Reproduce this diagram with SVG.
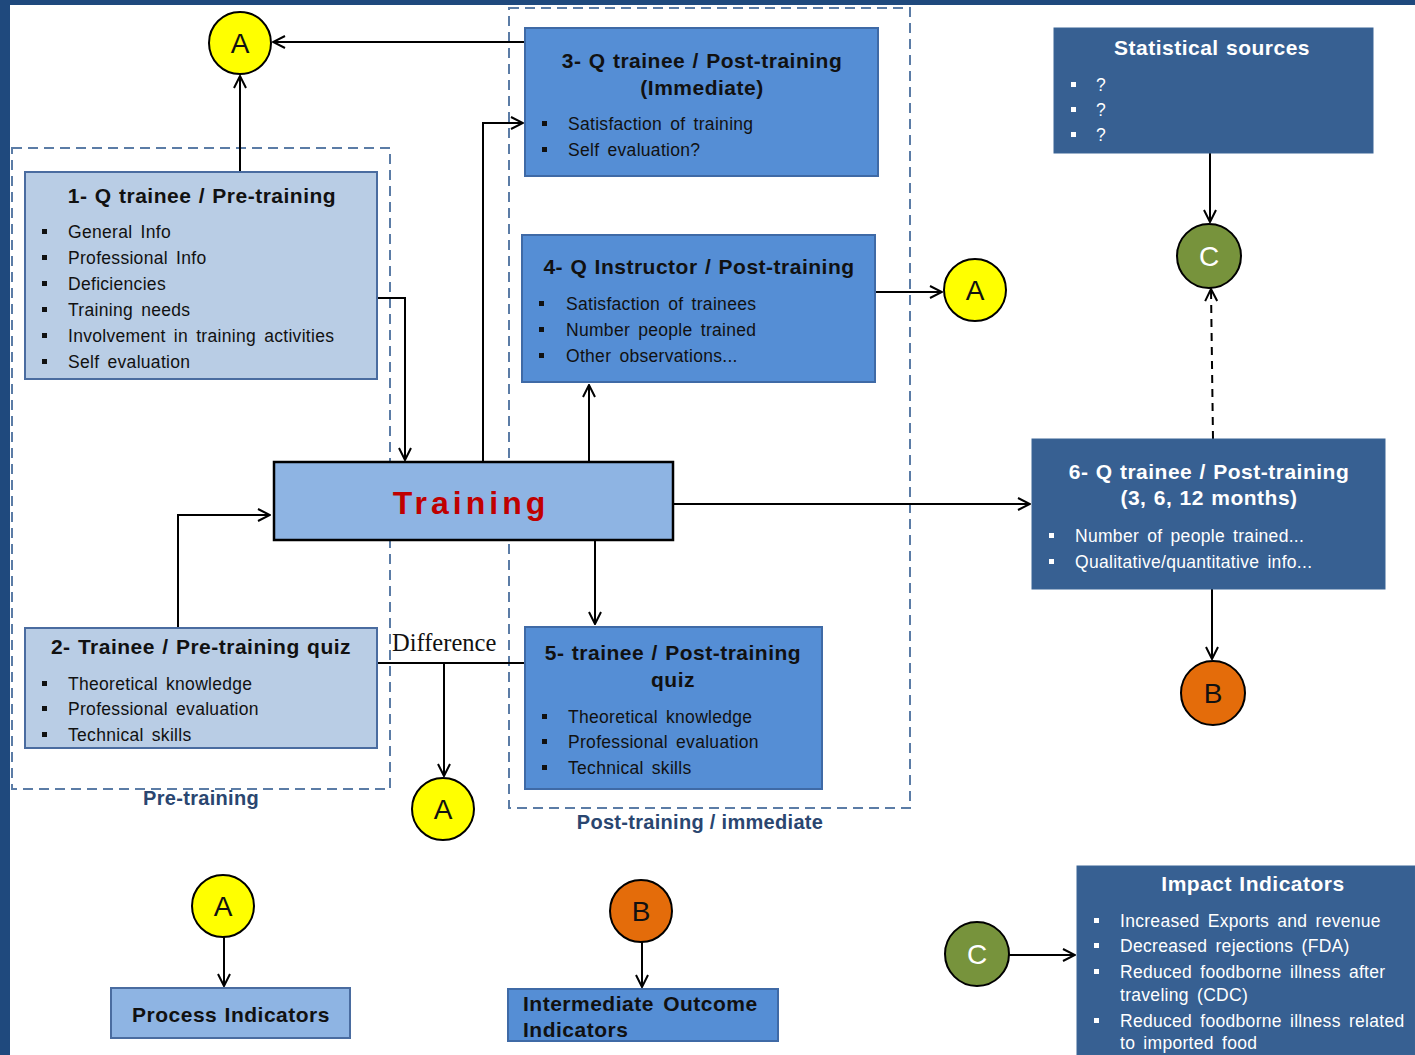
<svg xmlns="http://www.w3.org/2000/svg" width="1415" height="1055" viewBox="0 0 1415 1055">
<style>
  text { font-family: "Liberation Sans", Arial, sans-serif; }
  .title { font-weight: bold; font-size: 21px; letter-spacing: 0.5px; word-spacing: 1px; fill: #111; text-anchor: middle; }
  .titlew { font-weight: bold; font-size: 21px; letter-spacing: 0.5px; word-spacing: 1px; fill: #fff; text-anchor: middle; }
  .item { font-size: 17.5px; letter-spacing: 0.3px; word-spacing: 3px; fill: #111; }
  .itemw { font-size: 17.5px; letter-spacing: 0.3px; word-spacing: 3px; fill: #fff; }
  .light { fill: #b9cde5; stroke: #4a6ca0; stroke-width: 2; }
  .mid { fill: #558ed5; stroke: #3f6aa6; stroke-width: 2; }
  .dark { fill: #376092; stroke: #3a6496; stroke-width: 1; }
  .bul { fill: #111; }
  .bulw { fill: #fff; }
  .zone { fill: none; stroke: #5b7ca6; stroke-width: 2; stroke-dasharray: 10 6; }
  .zlabel { font-weight: bold; font-size: 20px; letter-spacing: 0.3px; fill: #2a4670; text-anchor: middle; }
  .conn { fill: none; stroke: #000; stroke-width: 2; }
  .circ { stroke: #000; stroke-width: 2; }
  .ctext { font-size: 28px; text-anchor: middle; }
</style>
<defs>
  <marker id="arr" viewBox="0 0 14 14" refX="13" refY="7" markerWidth="14" markerHeight="14" markerUnits="userSpaceOnUse" orient="auto">
    <path d="M1,1 L13,7 L1,13" fill="none" stroke="#000" stroke-width="2"/>
  </marker>
</defs>
<rect x="0" y="0" width="1415" height="1055" fill="#fff"/>
<rect x="0" y="0" width="1415" height="5" fill="#1f497d"/>
<rect x="0" y="0" width="10" height="1055" fill="#1f497d"/>

<g id="zones">
  <rect class="zone" x="12" y="148" width="378" height="641"/>
  <text class="zlabel" x="201" y="805">Pre-training</text>
  <rect class="zone" x="509" y="8" width="401" height="800"/>
  <text class="zlabel" x="700" y="829">Post-training / immediate</text>
</g>

<g id="connectors">
  <line class="conn" x1="525" y1="42" x2="273" y2="42" marker-end="url(#arr)"/>
  <line class="conn" x1="240" y1="172" x2="240" y2="76" marker-end="url(#arr)"/>
  <polyline class="conn" points="377,298 405,298 405,460" marker-end="url(#arr)"/>
  <polyline class="conn" points="483,462 483,123 523,123" marker-end="url(#arr)"/>
  <line class="conn" x1="589" y1="462" x2="589" y2="385" marker-end="url(#arr)"/>
  <line class="conn" x1="875" y1="292" x2="942" y2="292" marker-end="url(#arr)"/>
  <polyline class="conn" points="178,628 178,515 270,515" marker-end="url(#arr)"/>
  <line class="conn" x1="673" y1="504" x2="1030" y2="504" marker-end="url(#arr)"/>
  <line class="conn" x1="595" y1="540" x2="595" y2="624" marker-end="url(#arr)"/>
  <line class="conn" x1="377" y1="663" x2="525" y2="663"/>
  <line class="conn" x1="444" y1="663" x2="444" y2="776" marker-end="url(#arr)"/>
  <text x="392" y="651" font-size="24.5" fill="#111" style="font-family:'Liberation Serif',serif">Difference</text>
  <line class="conn" x1="1210" y1="153" x2="1210" y2="222" marker-end="url(#arr)"/>
  <line class="conn" x1="1213" y1="439" x2="1211" y2="289" stroke-dasharray="8 6" marker-end="url(#arr)"/>
  <line class="conn" x1="1212" y1="589" x2="1212" y2="659" marker-end="url(#arr)"/>
  <line class="conn" x1="224" y1="937" x2="224" y2="986" marker-end="url(#arr)"/>
  <line class="conn" x1="642" y1="942" x2="642" y2="987" marker-end="url(#arr)"/>
  <line class="conn" x1="1009" y1="955" x2="1075" y2="955" marker-end="url(#arr)"/>
</g>

<g id="box1">
  <rect class="light" x="25" y="172" width="352" height="207"/>
  <text class="title" x="202" y="203">1- Q trainee / Pre-training</text>
  <g class="bul"><rect x="42" y="229" width="5" height="5"/><rect x="42" y="255" width="5" height="5"/><rect x="42" y="281" width="5" height="5"/><rect x="42" y="307" width="5" height="5"/><rect x="42" y="333" width="5" height="5"/><rect x="42" y="359" width="5" height="5"/></g>
  <text class="item" x="68" y="238">General Info</text>
  <text class="item" x="68" y="264">Professional Info</text>
  <text class="item" x="68" y="290">Deficiencies</text>
  <text class="item" x="68" y="316">Training needs</text>
  <text class="item" x="68" y="342">Involvement in training activities</text>
  <text class="item" x="68" y="368">Self evaluation</text>
</g>

<g id="box2">
  <rect class="light" x="25" y="628" width="352" height="120"/>
  <text class="title" x="201" y="654">2- Trainee / Pre-training quiz</text>
  <g class="bul"><rect x="42" y="681" width="5" height="5"/><rect x="42" y="706" width="5" height="5"/><rect x="42" y="732" width="5" height="5"/></g>
  <text class="item" x="68" y="690">Theoretical knowledge</text>
  <text class="item" x="68" y="715">Professional evaluation</text>
  <text class="item" x="68" y="741">Technical skills</text>
</g>

<g id="box3">
  <rect class="mid" x="525" y="28" width="353" height="148"/>
  <text class="title" x="702" y="68">3- Q trainee / Post-training</text>
  <text class="title" x="702" y="95">(Immediate)</text>
  <g class="bul"><rect x="542" y="121" width="5" height="5"/><rect x="542" y="147" width="5" height="5"/></g>
  <text class="item" x="568" y="130">Satisfaction of training</text>
  <text class="item" x="568" y="156">Self evaluation?</text>
</g>

<g id="box4">
  <rect class="mid" x="522" y="235" width="353" height="147"/>
  <text class="title" x="699" y="274">4- Q Instructor / Post-training</text>
  <g class="bul"><rect x="539" y="301" width="5" height="5"/><rect x="539" y="327" width="5" height="5"/><rect x="539" y="353" width="5" height="5"/></g>
  <text class="item" x="566" y="310">Satisfaction of trainees</text>
  <text class="item" x="566" y="336">Number people trained</text>
  <text class="item" x="566" y="362">Other observations...</text>
</g>

<g id="training">
  <rect x="274" y="462" width="399" height="78" fill="#8eb4e3" stroke="#000" stroke-width="2.5"/>
  <text x="471" y="514" font-size="32" font-weight="bold" fill="#c00000" text-anchor="middle" letter-spacing="4">Training</text>
</g>

<g id="box5">
  <rect class="mid" x="525" y="627" width="297" height="162"/>
  <text class="title" x="673" y="660">5- trainee / Post-training</text>
  <text class="title" x="673" y="687">quiz</text>
  <g class="bul"><rect x="542" y="714" width="5" height="5"/><rect x="542" y="739" width="5" height="5"/><rect x="542" y="765" width="5" height="5"/></g>
  <text class="item" x="568" y="723">Theoretical knowledge</text>
  <text class="item" x="568" y="748">Professional evaluation</text>
  <text class="item" x="568" y="774">Technical skills</text>
</g>

<g id="box6">
  <rect class="dark" x="1032" y="439" width="353" height="150"/>
  <text class="titlew" x="1209" y="479">6-  Q trainee / Post-training</text>
  <text class="titlew" x="1209" y="505">(3, 6, 12 months)</text>
  <g class="bulw"><rect x="1049" y="533" width="5" height="5"/><rect x="1049" y="559" width="5" height="5"/></g>
  <text class="itemw" x="1075" y="542">Number of people trained...</text>
  <text class="itemw" x="1075" y="568">Qualitative/quantitative info...</text>
</g>

<g id="stats">
  <rect class="dark" x="1054" y="28" width="319" height="125"/>
  <text class="titlew" x="1212" y="55">Statistical sources</text>
  <g class="bulw"><rect x="1071" y="82" width="5" height="5"/><rect x="1071" y="107" width="5" height="5"/><rect x="1071" y="132" width="5" height="5"/></g>
  <text class="itemw" x="1096" y="91">?</text>
  <text class="itemw" x="1096" y="116">?</text>
  <text class="itemw" x="1096" y="141">?</text>
</g>

<g id="impact">
  <rect class="dark" x="1077" y="866" width="338" height="189"/>
  <text class="titlew" x="1253" y="891">Impact Indicators</text>
  <g class="bulw"><rect x="1094" y="918" width="5" height="5"/><rect x="1094" y="943" width="5" height="5"/><rect x="1094" y="969" width="5" height="5"/><rect x="1094" y="1018" width="5" height="5"/></g>
  <text class="itemw" x="1120" y="927">Increased Exports and revenue</text>
  <text class="itemw" x="1120" y="952">Decreased rejections (FDA)</text>
  <text class="itemw" x="1120" y="978">Reduced foodborne illness after</text>
  <text class="itemw" x="1120" y="1001">traveling (CDC)</text>
  <text class="itemw" x="1120" y="1027">Reduced foodborne illness related</text>
  <text class="itemw" x="1120" y="1049">to imported food</text>
</g>

<g id="process">
  <rect x="111" y="988" width="239" height="50" fill="#8eb4e3" stroke="#4a6ca0" stroke-width="2"/>
  <text class="title" x="231" y="1022">Process Indicators</text>
</g>

<g id="intermediate">
  <rect class="mid" x="508" y="989" width="270" height="52"/>
  <text x="523" y="1011" font-size="21" font-weight="bold" letter-spacing="0.5" word-spacing="3" fill="#111">Intermediate Outcome</text>
  <text x="523" y="1037" font-size="21" font-weight="bold" letter-spacing="0.5" fill="#111">Indicators</text>
</g>

<g id="circleA1"><circle class="circ" cx="240" cy="43" r="31" fill="#ffff00"/><text class="ctext" x="240" y="53" fill="#111">A</text></g>
<g id="circleA2"><circle class="circ" cx="975" cy="290" r="31" fill="#ffff00"/><text class="ctext" x="975" y="300" fill="#111">A</text></g>
<g id="circleA3"><circle class="circ" cx="443" cy="809" r="31" fill="#ffff00"/><text class="ctext" x="443" y="819" fill="#111">A</text></g>
<g id="circleA4"><circle class="circ" cx="223" cy="906" r="31" fill="#ffff00"/><text class="ctext" x="223" y="916" fill="#111">A</text></g>
<g id="circleB1"><circle class="circ" cx="1213" cy="693" r="32" fill="#e46c0a"/><text class="ctext" x="1213" y="703" fill="#111">B</text></g>
<g id="circleB2"><circle class="circ" cx="641" cy="911" r="31" fill="#e46c0a"/><text class="ctext" x="641" y="921" fill="#111">B</text></g>
<g id="circleC1"><circle class="circ" cx="1209" cy="256" r="32" fill="#77933c"/><text class="ctext" x="1209" y="266" fill="#fff">C</text></g>
<g id="circleC2"><circle class="circ" cx="977" cy="954" r="32" fill="#77933c"/><text class="ctext" x="977" y="964" fill="#fff">C</text></g>
</svg>
